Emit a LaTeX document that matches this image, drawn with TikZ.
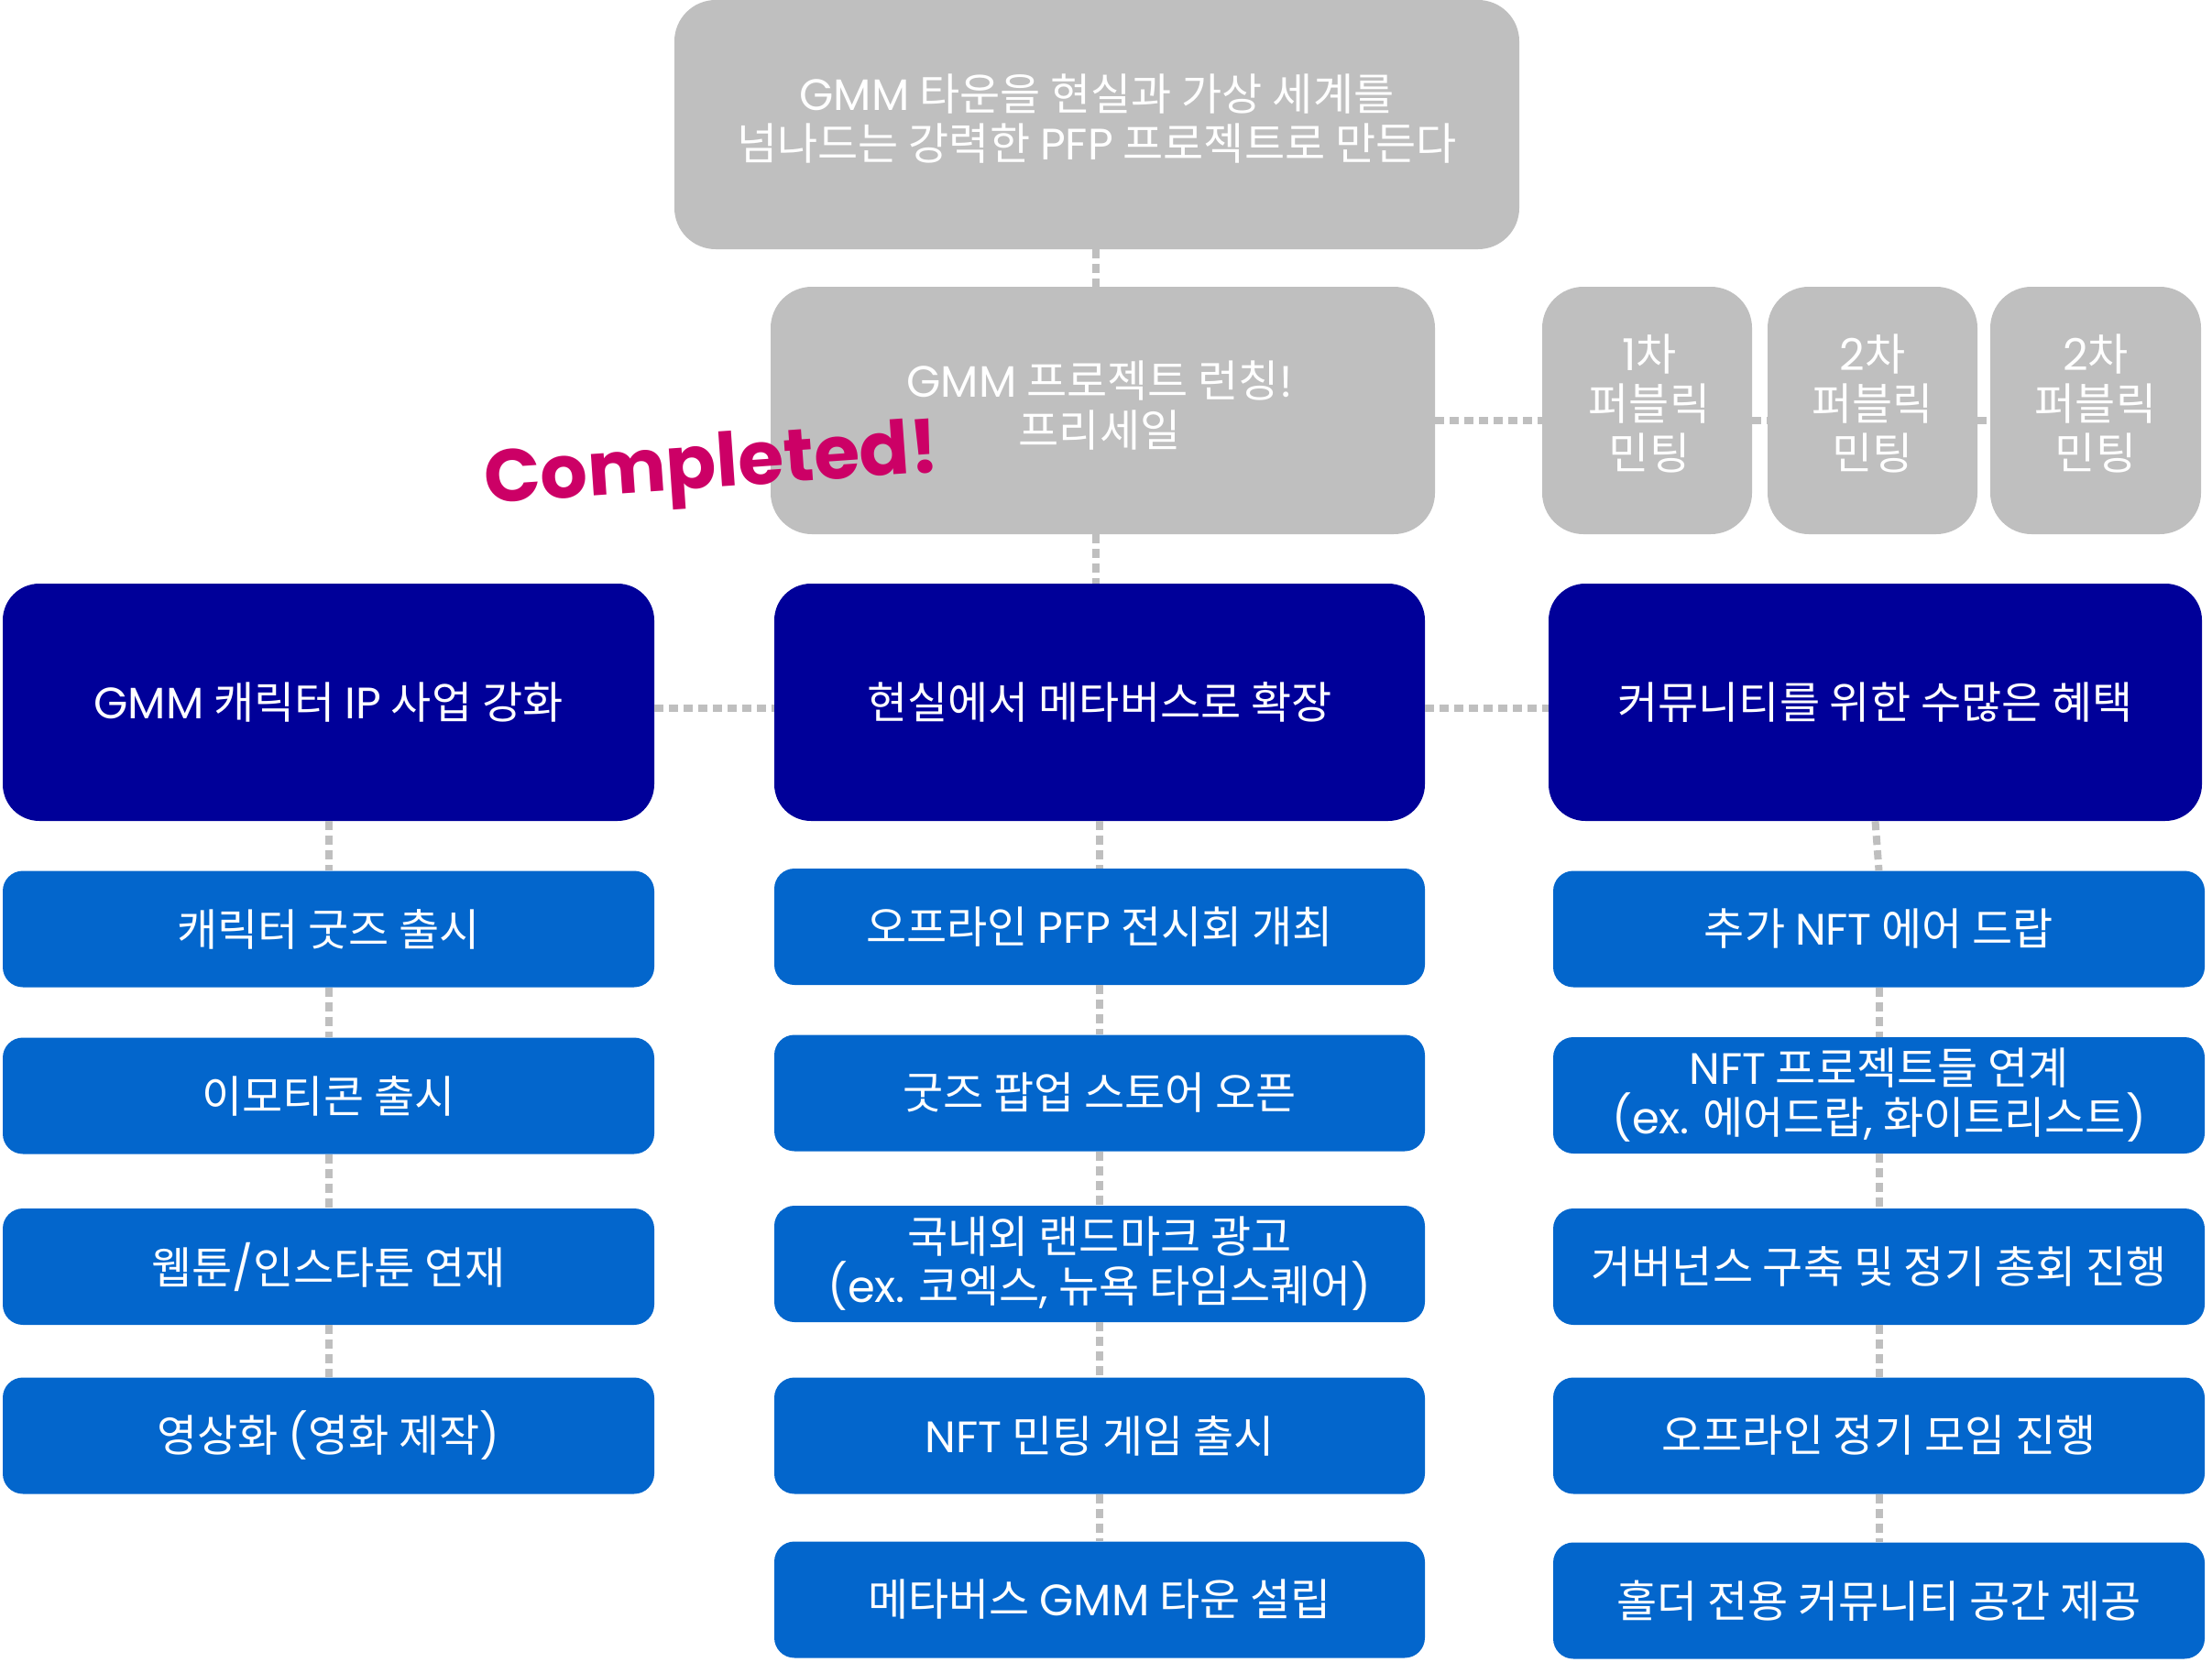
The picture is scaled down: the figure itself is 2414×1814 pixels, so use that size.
\documentclass[tikz,border=0pt]{standalone}
\usepackage{fontspec}
\setmainfont{Noto Sans CJK KR}
\newfontfamily\compfont{Poppins}
\newfontfamily\latfont{Poppins}
\newcommand\lt[1]{{\latfont #1}}
\definecolor{gcol}{RGB}{191,191,191}
\definecolor{dcol}{RGB}{0,0,153}
\definecolor{bcol}{RGB}{3,102,204}
\definecolor{mcol}{RGB}{204,0,102}
\begin{document}
\begin{tikzpicture}[x=1pt,y=-1pt,
  base/.style={text=white, align=center, inner sep=0pt, font=\fontsize{48}{54}\selectfont},
  graybox/.style={base, fill=gcol, rounded corners=45pt},
  darkbox/.style={base, fill=dcol, rounded corners=40pt, minimum height=259pt},
  bluebox/.style={base, fill=bcol, rounded corners=22pt, minimum height=127pt},
  link/.style={draw=gcol, line width=8pt, dash pattern=on 10pt off 6pt}
]
\useasboundingbox (0,0) rectangle (2414,1814);
% top level
\node[graybox, minimum width=922pt, minimum height=272pt] (top) at (1197,136) {};
\node[base] (toptxt) at (1197,130) {\lt{GMM} 타운을 현실과 가상 세계를\\넘나드는 강력한 \lt{PFP} 프로젝트로 만든다};
\node[graybox, minimum width=725pt, minimum height=270pt] (launch) at (1203.5,448) {};
\node[base] (launchtxt) at (1200,443) {\lt{GMM} 프로젝트 런칭\lt{!}\\프리세일};
\node[graybox, minimum width=229pt, minimum height=270pt] (m1) at (1797.5,448) {};
\node[graybox, minimum width=229pt, minimum height=270pt] (m2) at (2043.5,448) {};
\node[graybox, minimum width=230pt, minimum height=270pt] (m3) at (2287,448) {};
\node[base] (m1t) at (1800,440) {\lt{1}차\\퍼블릭\\민팅};
\node[base] (m2t) at (2043.5,440) {\lt{2}차\\퍼블릭\\민팅};
\node[base] (m3t) at (2287,440) {\lt{2}차\\퍼블릭\\민팅};
% pillars
\node[darkbox, minimum width=711pt] (dL) at (358.5,766.5) {\lt{GMM} 캐릭터 \lt{IP} 사업 강화};
\node[darkbox, minimum width=710pt] (dM) at (1200,766.5) {현실에서 메타버스로 확장};
\node[darkbox, minimum width=713pt] (dR) at (2046.5,766.5) {커뮤니티를 위한 수많은 혜택};
% left column
\node[bluebox, minimum width=711pt] (L1) at (358.5,1014) {캐릭터 굿즈 출시};
\node[bluebox, minimum width=711pt] (L2) at (358.5,1196) {이모티콘 출시};
\node[bluebox, minimum width=711pt] (L3) at (358.5,1382.5) {웹툰\lt{/}인스타툰 연재};
\node[bluebox, minimum width=711pt] (L4) at (358.5,1567) {영상화 \lt{(}영화 제작\lt{)}};
% middle column
\node[bluebox, minimum width=710pt] (M1) at (1200,1011.5) {오프라인 \lt{PFP} 전시회 개최};
\node[bluebox, minimum width=710pt] (M2) at (1200,1193) {굿즈 팝업 스토어 오픈};
\node[bluebox, minimum width=710pt] (M3) at (1200,1379.5) {국내외 랜드마크 광고\\\lt{(ex.} 코엑스\lt{,} 뉴욕 타임스퀘어\lt{)}};
\node[bluebox, minimum width=710pt] (M4) at (1200,1567) {\lt{NFT} 민팅 게임 출시};
\node[bluebox, minimum width=710pt] (M5) at (1200,1746) {메타버스 \lt{GMM} 타운 설립};
% right column
\node[bluebox, minimum width=711pt] (R1) at (2050.5,1014) {추가 \lt{NFT} 에어 드랍};
\node[bluebox, minimum width=711pt] (R2) at (2050.5,1195.5) {\lt{NFT} 프로젝트들 연계\\\lt{(ex.} 에어드랍\lt{,} 화이트리스트\lt{)}};
\node[bluebox, minimum width=711pt] (R3) at (2050.5,1382.5) {거버넌스 구축 및 정기 총회 진행};
\node[bluebox, minimum width=711pt] (R4) at (2050.5,1567) {오프라인 정기 모임 진행};
\node[bluebox, minimum width=711pt] (R5) at (2050.5,1747) {홀더 전용 커뮤니티 공간 제공};
% connectors
\draw[link] ([xshift=-1pt]top.south) -- ([xshift=-1pt]top.south |- launch.north);
\draw[link] ([xshift=-1pt]top.south |- launch.south) -- ([xshift=-1pt]top.south |- dM.north);
\draw[link] ([yshift=-11pt]launch.east) -- ([yshift=-11pt]m1.west);
\draw[link] ([yshift=-11pt]m1.east) -- ([yshift=-11pt]m2.west);
\draw[link] ([yshift=-11pt]m2.east) -- ([yshift=-11pt]m3.west);
\draw[link] ([yshift=-6pt]dL.east) -- ([yshift=-6pt]dM.west);
\draw[link] ([yshift=-6pt]dM.east) -- ([yshift=-6pt]dR.west);
\draw[link] (dL.south) -- (L1.north);
\draw[link] (L1.south) -- (L2.north);
\draw[link] (L2.south) -- (L3.north);
\draw[link] (L3.south) -- (L4.north);
\draw[link] (dM.south) -- (M1.north);
\draw[link] (M1.south) -- (M2.north);
\draw[link] (M2.south) -- (M3.north);
\draw[link] (M3.south) -- (M4.north);
\draw[link] (M4.south) -- (M5.north);
\draw[link] (dR.south) -- (R1.north);
\draw[link] (R1.south) -- (R2.north);
\draw[link] (R2.south) -- (R3.north);
\draw[link] (R3.south) -- (R4.north);
\draw[link] (R4.south) -- (R5.north);
% stamp
\node[text=mcol, rotate=4, inner sep=0pt, font=\compfont\bfseries\fontsize{81}{90}\selectfont] (done) at (777,513) {Completed!};
\end{tikzpicture}
\end{document}
